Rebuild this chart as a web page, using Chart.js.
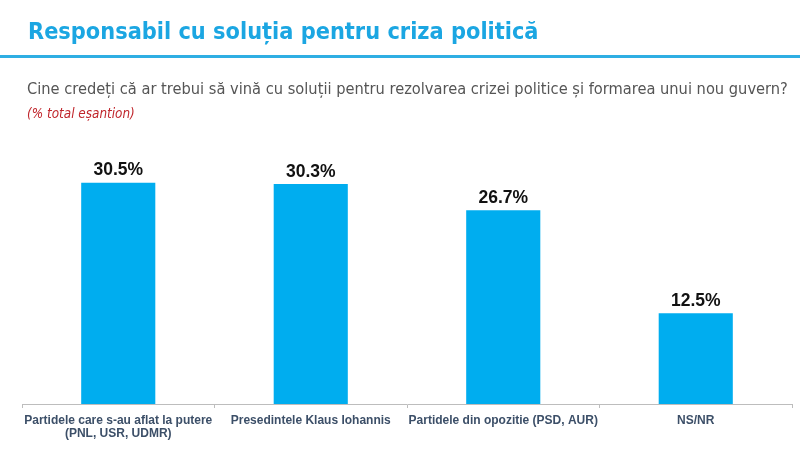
<!DOCTYPE html>
<html>
<head>
<meta charset="utf-8">
<script src="https://cdn.jsdelivr.net/npm/chart.js@4"></script>
<style>
  html, body { margin: 0; padding: 0; background: #fff; }
  #wrap { position: relative; width: 800px; height: 464px; overflow: hidden; }
  #title {
    position: absolute; left: 28px; top: 17px;
    font: bold 23.3px "DejaVu Sans Condensed", "DejaVu Sans", sans-serif;
    font-stretch: condensed;
    color: #1ba6e2; white-space: nowrap;
  }
  #rule { position: absolute; left: 0; top: 55px; width: 800px; height: 2.5px; background: #2eaee3; }
  #sub {
    position: absolute; left: 27px; top: 79px;
    font: 16.3px "DejaVu Sans Condensed", "DejaVu Sans", sans-serif;
    font-stretch: condensed;
    color: #555; white-space: nowrap;
  }
  #note {
    position: absolute; left: 27px; top: 106px;
    font: italic 13.4px "DejaVu Sans Condensed", "DejaVu Sans", sans-serif;
    font-stretch: condensed;
    color: #c0262c; white-space: nowrap;
  }
  #chart { position: absolute; left: 0; top: 0; }
</style>
</head>
<body>
<div id="wrap">
  <canvas id="chart" width="800" height="464"></canvas>
  <div id="title">Responsabil cu soluția pentru criza politică</div>
  <div id="rule"></div>
  <div id="sub">Cine credeți că ar trebui să vină cu soluții pentru rezolvarea crizei politice și formarea unui nou guvern?</div>
  <div id="note">(% total eșantion)</div>
</div>
<script>
var categories = [
  ["Partidele care s-au aflat la putere", "(PNL, USR, UDMR)"],
  "Presedintele Klaus Iohannis",
  "Partidele din opozitie (PSD, AUR)",
  "NS/NR"
];
var values = [30.5, 30.3, 26.7, 12.5];
var barColor = "#00adef";

// draws the value above each bar
var valueLabels = {
  id: "valueLabels",
  afterDatasetsDraw: function (chart) {
    var ctx = chart.ctx;
    var meta = chart.getDatasetMeta(0);
    ctx.save();
    ctx.font = 'bold 17.5px "Liberation Sans Narrow", "Liberation Sans", Arial, sans-serif';
    ctx.fillStyle = "#111";
    ctx.textAlign = "center";
    ctx.textBaseline = "middle";
    meta.data.forEach(function (bar, i) {
      ctx.fillText(values[i].toFixed(1) + "%", bar.x, bar.y - 12);
    });
    ctx.restore();
  }
};

new Chart("chart", {
  type: "bar",
  data: {
    labels: categories,
    datasets: [
      {
        data: values,
        backgroundColor: barColor,
        categoryPercentage: 1,
        barPercentage: 0.385
      }
    ]
  },
  options: {
    responsive: false,
    animation: false,
    layout: { padding: { top: 150, left: 22, right: 8, bottom: 0 } },
    plugins: {
      legend: { display: false },
      tooltip: { enabled: false }
    },
    scales: {
      y: {
        display: false,
        min: 0,
        max: 35
      },
      x: {
        afterFit: function (scale) {
          scale.height = 60;
        },
        border: { display: true, color: "#bdbdbd", width: 1 },
        grid: {
          display: true,
          drawOnChartArea: false,
          drawTicks: true,
          tickLength: 4,
          color: "#bdbdbd",
          offset: true
        },
        ticks: {
          color: "#3c4f68",
          padding: 6,
          maxRotation: 0,
          autoSkip: false,
          font: {
            family: '"Liberation Sans Narrow", "Liberation Sans", Arial, sans-serif',
            weight: "bold",
            size: 12,
            lineHeight: 1.12
          }
        }
      }
    }
  },
  plugins: [valueLabels]
});
</script>
</body>
</html>
